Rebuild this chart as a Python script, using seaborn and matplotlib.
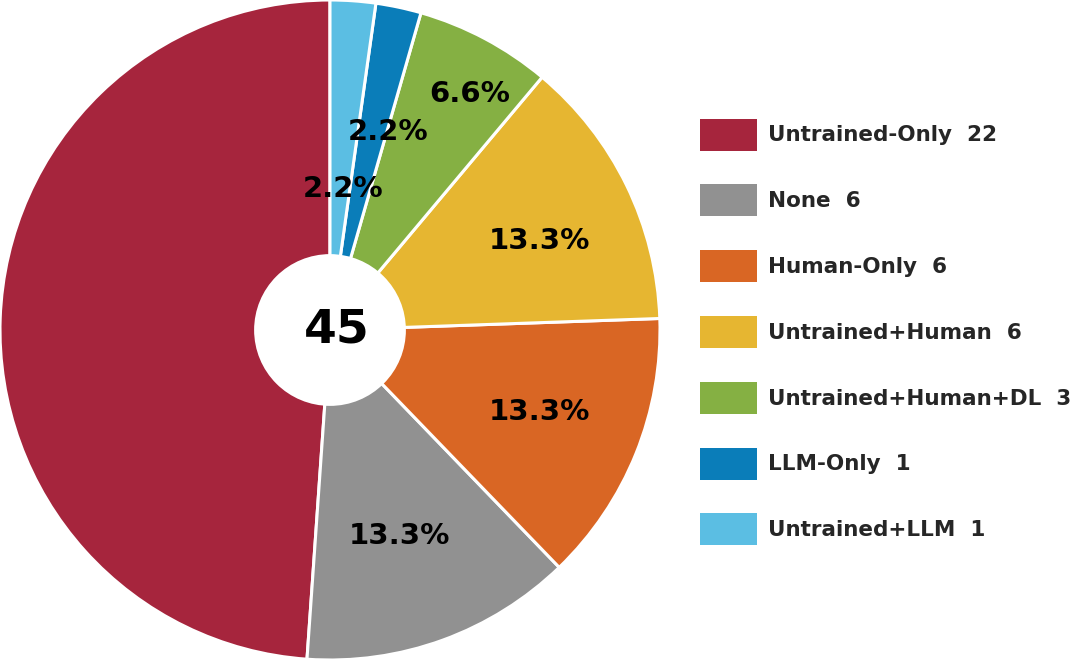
import numpy as np
import matplotlib
matplotlib.use("Agg")
import matplotlib.pyplot as plt
import seaborn as sns
from matplotlib.patches import Circle

categories = ["Untrained-Only", "None", "Human-Only", "Untrained+Human",
              "Untrained+Human+DL", "LLM-Only", "Untrained+LLM"]
counts = [22, 6, 6, 6, 3, 1, 1]
pct_labels = ["", "13.3%", "13.3%", "13.3%", "6.6%", "2.2%", "2.2%"]
label_radius = [0.0, 0.66, 0.68, 0.69, 0.83, 0.625, 0.43]
label_angle_shift = [0.0, -1.3, 0.7, -3.0, -2.6, -4.3, -1.3]
colors = ["#A6253D", "#919191", "#D96624", "#E6B631", "#85B043", "#0A7DB9", "#5BBEE3"]
total_label = str(sum(counts))

sns.set_theme(style="white")
plt.rcParams['font.family'] = ['DejaVu Sans']

fig = plt.figure(figsize=(10.74, 6.6), dpi=100)
ax = fig.add_axes([0, 0, 660 / 1074, 1])

wedges, _ = ax.pie(counts, colors=colors, startangle=90, counterclock=True,
                   radius=1.0, wedgeprops=dict(edgecolor="white", linewidth=2.2))

for w, lab, r, da in zip(wedges, pct_labels, label_radius, label_angle_shift):
    if not lab:
        continue
    ang = np.deg2rad((w.theta1 + w.theta2) / 2 + da)
    ax.text(r * np.cos(ang), r * np.sin(ang), lab, ha="center", va="center",
            fontsize=21, fontweight="bold", color="black")

ax.add_patch(Circle((0, 0), 0.23, facecolor="white", edgecolor="none", zorder=5))
ax.text(0.02, 0.0, total_label, ha="center", va="center", fontsize=34,
        fontweight="bold", color="black", zorder=6)
ax.set_xlim(-1.0, 1.0)
ax.set_ylim(-1.0, 1.0)
ax.set_aspect("equal")
ax.axis("off")

legend_labels = [f"{c}  {n}" for c, n in zip(categories, counts)]
leg = fig.legend(wedges, legend_labels, loc="center left",
                 bbox_to_anchor=(700 / 1074, 0.497), frameon=False,
                 prop=dict(size=15.5, weight="bold"),
                 handlelength=2.65, handleheight=1.91, labelspacing=1.57,
                 handletextpad=0.5, borderaxespad=0, borderpad=0)
for h in leg.legend_handles:
    h.set_edgecolor("none")

fig.savefig("out.png", dpi=100)
